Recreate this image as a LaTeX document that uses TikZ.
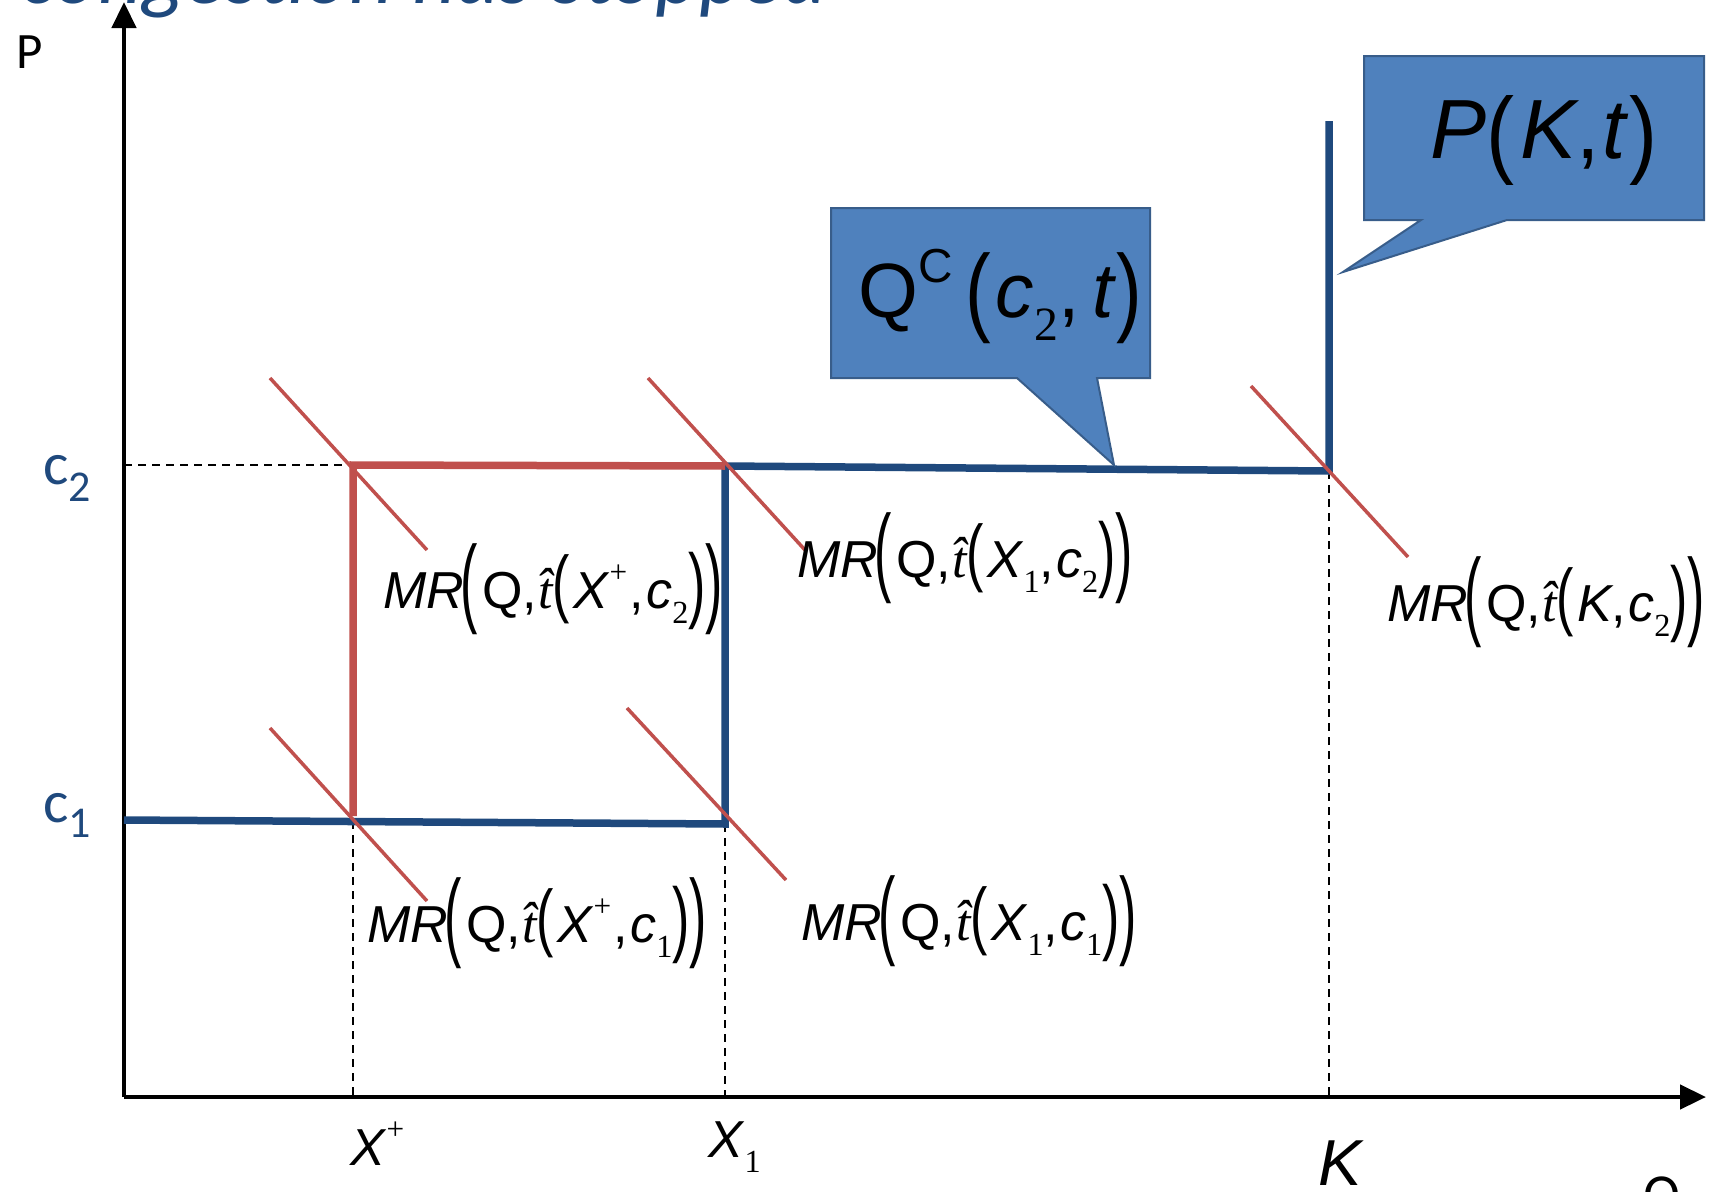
\documentclass[tikz,border=0pt]{standalone}
\usepackage{fontspec}
\setmainfont{Liberation Sans}
\newfontfamily\serif{Liberation Serif}
\newfontfamily\calfont{Carlito}
\usepackage{graphicx}
\usetikzlibrary{arrows.meta}
\definecolor{lineblue}{HTML}{1F497D}
\definecolor{mrred}{HTML}{C0504D}
\definecolor{callfill}{HTML}{4F81BD}
\definecolor{callline}{HTML}{385D8A}
\tikzstyle{axis} = [line width=4.5pt,-{Triangle[length=26pt,width=24pt]}]
\tikzstyle{curve} = [lineblue,line width=7.5pt]
\tikzstyle{bound} = [mrred,line width=7.5pt]
\tikzstyle{mrline} = [mrred,line width=3.5pt]
\tikzstyle{guide} = [line width=1.8pt,dash pattern=on 8pt off 6pt]
\tikzstyle{callout} = [fill=callfill,draw=callline,line width=2pt]
\tikzstyle{mrlabel} = [anchor=base west,inner sep=0pt,font=\fontsize{52}{52}\selectfont]
\tikzstyle{calabel} = [anchor=base west,inner sep=0pt,font=\calfont\fontsize{51}{51}\selectfont]
% tall brackets, sub- and superscripts
\newcommand{\tallp}[3]{\raisebox{#2}{\scalebox{1}[#1]{#3}}}
\newcommand{\lo}[1]{\raisebox{-0.3em}{\scalebox{0.62}{\serif #1}}}
\newcommand{\hi}[1]{\raisebox{0.5em}{\scalebox{0.6}{\serif #1}}}
\newcommand{\that}{{\serif\itshape\^{t}}}
\newcommand{\mr}[2]{\textit{MR}\kern-0.06em\tallp{1.88}{-0.12em}{(}\kern0.08em Q,\kern0.02em\that\tallp{1.43}{0em}{(}\kern0.06em #1,\kern0.04em\textit{c}\lo{#2}\tallp{1.6}{-0.08em}{)}\tallp{1.88}{-0.12em}{)}}
\begin{document}
\begin{tikzpicture}[x=1pt,y=-1pt]
    \useasboundingbox (0,0) rectangle (1718,1191);
    \coordinate (O) at (124,1097);
    \coordinate (c1o) at (124,820);
    \coordinate (c2o) at (124,465);
    \coordinate (c1a) at (353,821);
    \coordinate (c1b) at (725,824);
    \coordinate (c2a) at (353,465);
    \coordinate (c2b) at (725,466);
    \coordinate (c2k) at (1329,471);
    \coordinate (ktop) at (1329,121);
    % title, cut by the top edge
    \node[anchor=base west,inner sep=0pt,text=lineblue,font=\calfont\itshape\fontsize{85}{85}\selectfont] (title) at (20,3) {congestion has stopped};
    % guides
    \draw[guide] (c2o) -- (c2a);
    \draw[guide] (c1a) -- (c1a |- O);
    \draw[guide] (c1b) -- (c1b |- O);
    \draw[guide] (c2k) -- (c2k |- O);
    % axes
    \draw[axis] (O) -- (124,2);
    \draw[axis] (O) -- (1706,1097);
    \node[calabel] (plabel) at (16,68) {P};
    \node[calabel,font=\calfont\fontsize{55}{55}\selectfont] (qlabel) at (1643,1212) {Q};
    \node[calabel,text=lineblue,font=\calfont\fontsize{60}{60}\selectfont] (c2label) at (43,484) {c\raisebox{-17pt}{\fontsize{44}{44}\selectfont 2}};
    \node[calabel,text=lineblue,font=\calfont\fontsize{60}{60}\selectfont] (c1label) at (43,822) {c\raisebox{-15pt}{\fontsize{44}{44}\selectfont 1}};
    \node[mrlabel] (xplus) at (350,1165) {\textit{X}\hi{+}};
    \node[mrlabel] (xone) at (708,1157) {\textit{X}\lo{1}};
    \node[mrlabel,font=\fontsize{65}{65}\selectfont] (klabel) at (1318,1185) {\textit{K}};
    % supply and the bound
    \draw[curve,line join=miter] (c1o) -- (c1b) -- (c2b) -- (c2k) -- (ktop);
    \draw[bound,line join=miter] (c1a |- 0,816) -- (c2a) -- (c2b);
    % marginal revenue lines
    \draw[mrline] (270,378) -- (427,550);
    \draw[mrline] (648,378) -- (805,550);
    \draw[mrline] (1251,386) -- (1408,557);
    \draw[mrline] (270,728) -- (427,901);
    \draw[mrline] (627,708) -- (786,880);
    \node[mrlabel] (mrA) at (383,608) {\mr{\textit{X}\hi{+}\kern0.05em}{2}};
    \node[mrlabel] (mrB) at (797,577) {\mr{\textit{X}\lo{1}}{2}};
    \node[mrlabel] (mrC) at (1387,621) {\mr{\textit{K}}{2}};
    \node[mrlabel] (mrD) at (367,942) {\mr{\textit{X}\hi{+}\kern0.05em}{1}};
    \node[mrlabel] (mrE) at (801,940) {\mr{\textit{X}\lo{1}}{1}};
    % callouts
    \draw[callout] (831,208) -- (1150,208) -- (1150,378) -- (1097,378) -- (1114,465) -- (1017,378) -- (831,378) -- cycle;
    \draw[callout] (1364,56) -- (1704,56) -- (1704,220) -- (1507,220) -- (1343,272) -- (1421,220) -- (1364,220) -- cycle;
    \node[mrlabel,font=\fontsize{77}{77}\selectfont] (qc) at (858,317) {Q\raisebox{0.45em}{\scalebox{0.62}{C}}\,\tallp{1.27}{-0.08em}{(}\kern0.06em\textit{c}\lo{2},\,\textit{t}\tallp{1.27}{-0.08em}{)}};
    \node[mrlabel,font=\fontsize{84}{84}\selectfont] (pk) at (1430,158) {\textit{P}\tallp{1.15}{-0.09em}{(}\kern0.08em\textit{K},\kern0.03em\textit{t}\tallp{1.15}{-0.09em}{)}};
\end{tikzpicture}
\end{document}
